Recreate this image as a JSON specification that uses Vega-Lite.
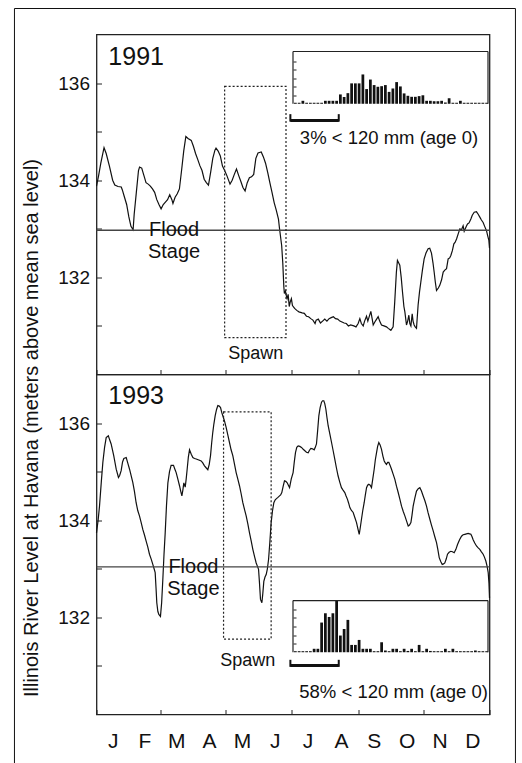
{
  "$schema": "https://vega.github.io/schema/vega-lite/v6.json",
  "background": "white",
  "padding": {"left": 12.5, "top": 6.5, "right": 2, "bottom": 1},
  "spacing": 0,
  "bounds": "flush",
  "config": {
    "font": "Liberation Sans",
    "view": {"stroke": "#222", "strokeWidth": 1.3},
    "axis": {"tickColor": "#222", "labelColor": "#111", "labelFont": "Liberation Sans", "titleFont": "Liberation Sans", "titleFontWeight": "normal", "titleColor": "#111", "grid": false, "domain": false, "labelFlush": false, "labelOverlap": false, "labelBound": false},
    "text": {"font": "Liberation Sans", "color": "#111"}
  },
  "vconcat": [
    {
      "width": 393,
      "height": 340,
      "resolve": {"scale": {"x": "independent", "y": "independent"}, "axis": {"x": "independent", "y": "independent"}},
      "layer": [
        {
          "layer": [
            {
              "data": {"values": [
                {"day":0,"level":133.88},{"day":2,"level":134.1},{"day":4,"level":134.35},{"day":7,"level":134.67},{"day":9,"level":134.55},{"day":12,"level":134.29},{"day":15,"level":134.0},{"day":17,"level":133.9},{"day":20,"level":133.87},{"day":23,"level":133.86},{"day":24,"level":133.8},{"day":26,"level":133.65},{"day":28,"level":133.5},{"day":30,"level":133.25},{"day":32,"level":133.05},{"day":34,"level":132.98},{"day":35,"level":133.3},{"day":37,"level":133.75},{"day":39,"level":134.2},{"day":40,"level":134.27},{"day":42,"level":134.25},{"day":44,"level":134.1},{"day":46,"level":133.95},{"day":48,"level":133.92},{"day":50,"level":133.88},{"day":52,"level":133.82},{"day":54,"level":133.75},{"day":56,"level":133.6},{"day":58,"level":133.5},{"day":60,"level":133.41},{"day":62,"level":133.5},{"day":64,"level":133.55},{"day":66,"level":133.6},{"day":68,"level":133.7},{"day":70,"level":133.6},{"day":71,"level":133.52},{"day":73,"level":133.65},{"day":75,"level":133.72},{"day":77,"level":133.82},{"day":79,"level":134.2},{"day":81,"level":134.6},{"day":83,"level":134.9},{"day":85,"level":134.86},{"day":88,"level":134.82},{"day":90,"level":134.7},{"day":92,"level":134.55},{"day":94,"level":134.43},{"day":96,"level":134.3},{"day":98,"level":134.2},{"day":100,"level":134.02},{"day":102,"level":133.95},{"day":104,"level":133.9},{"day":106,"level":134.16},{"day":108,"level":134.45},{"day":110,"level":134.62},{"day":111,"level":134.66},{"day":113,"level":134.6},{"day":115,"level":134.5},{"day":117,"level":134.29},{"day":119,"level":134.2},{"day":121,"level":134.1},{"day":124,"level":133.92},{"day":126,"level":134.0},{"day":128,"level":134.12},{"day":130,"level":134.23},{"day":132,"level":134.1},{"day":134,"level":133.98},{"day":136,"level":133.85},{"day":138,"level":133.78},{"day":140,"level":133.95},{"day":142,"level":134.05},{"day":144,"level":134.07},{"day":146,"level":134.12},{"day":148,"level":134.45},{"day":150,"level":134.56},{"day":153,"level":134.58},{"day":155,"level":134.48},{"day":157,"level":134.35},{"day":159,"level":134.16},{"day":161,"level":133.95},{"day":163,"level":133.75},{"day":165,"level":133.54},{"day":167,"level":133.38},{"day":169,"level":133.2},{"day":170,"level":133.0},{"day":172,"level":132.65},{"day":173,"level":132.3},{"day":174,"level":131.8},{"day":174.5,"level":131.67},{"day":175.5,"level":131.72},{"day":176.5,"level":131.6},{"day":177,"level":131.56},{"day":178,"level":131.65},{"day":179,"level":131.4},{"day":180,"level":131.5},{"day":181,"level":131.56},{"day":182,"level":131.42},{"day":184,"level":131.36},{"day":186,"level":131.32},{"day":188,"level":131.29},{"day":191,"level":131.27},{"day":193,"level":131.26},{"day":195,"level":131.2},{"day":197,"level":131.19},{"day":199,"level":131.15},{"day":201,"level":131.12},{"day":203,"level":131.05},{"day":204,"level":131.12},{"day":206,"level":131.14},{"day":208,"level":131.06},{"day":210,"level":131.1},{"day":212,"level":131.14},{"day":214,"level":131.1},{"day":216,"level":131.15},{"day":218,"level":131.17},{"day":220,"level":131.19},{"day":222,"level":131.15},{"day":224,"level":131.14},{"day":226,"level":131.1},{"day":228,"level":131.08},{"day":230,"level":131.06},{"day":232,"level":131.05},{"day":234,"level":131.0},{"day":236,"level":131.02},{"day":239,"level":131.0},{"day":241,"level":130.98},{"day":243,"level":131.05},{"day":244.6,"level":131.15},{"day":246,"level":131.05},{"day":247.7,"level":131.0},{"day":249,"level":131.1},{"day":250.8,"level":131.2},{"day":252,"level":131.1},{"day":254.8,"level":131.3},{"day":256,"level":131.15},{"day":257,"level":131.02},{"day":259,"level":131.1},{"day":261.6,"level":131.19},{"day":263,"level":131.1},{"day":264.7,"level":131.02},{"day":267,"level":131.0},{"day":269.3,"level":130.98},{"day":271,"level":130.95},{"day":273.4,"level":130.91},{"day":275.5,"level":130.98},{"day":277,"level":131.5},{"day":278.5,"level":132.1},{"day":279.5,"level":132.35},{"day":281.7,"level":132.25},{"day":283,"level":132.0},{"day":284.2,"level":131.7},{"day":285.5,"level":131.4},{"day":286.4,"level":131.29},{"day":287.9,"level":131.02},{"day":289,"level":131.1},{"day":290.1,"level":131.22},{"day":291,"level":131.05},{"day":292,"level":131.0},{"day":293.2,"level":131.25},{"day":294,"level":131.1},{"day":295,"level":131.02},{"day":296,"level":130.98},{"day":297.2,"level":130.95},{"day":298.7,"level":131.43},{"day":300,"level":131.7},{"day":301.2,"level":131.9},{"day":302.7,"level":132.15},{"day":304.3,"level":132.38},{"day":306,"level":132.5},{"day":308,"level":132.59},{"day":309.5,"level":132.6},{"day":311.1,"level":132.5},{"day":312.5,"level":132.3},{"day":313.6,"level":132.11},{"day":314.7,"level":131.9},{"day":315.8,"level":131.73},{"day":317.5,"level":131.78},{"day":318.9,"level":131.84},{"day":320.5,"level":131.95},{"day":322,"level":132.11},{"day":323.5,"level":132.15},{"day":325.1,"level":132.18},{"day":326.6,"level":132.38},{"day":328,"level":132.4},{"day":329.1,"level":132.45},{"day":330.5,"level":132.55},{"day":331.9,"level":132.69},{"day":333,"level":132.72},{"day":334.4,"level":132.79},{"day":336,"level":132.9},{"day":337.5,"level":133.0},{"day":339,"level":132.98},{"day":340.5,"level":133.06},{"day":341.5,"level":132.95},{"day":342.1,"level":132.98},{"day":343.5,"level":133.05},{"day":344.6,"level":133.1},{"day":346,"level":133.12},{"day":347.7,"level":133.2},{"day":349,"level":133.28},{"day":350.8,"level":133.34},{"day":352.9,"level":133.35},{"day":354.5,"level":133.3},{"day":356,"level":133.24},{"day":357.5,"level":133.18},{"day":359.1,"level":133.13},{"day":360.5,"level":133.05},{"day":362.2,"level":132.96},{"day":363.4,"level":132.85},{"day":364.4,"level":132.76},{"day":365,"level":132.6}
              ]},
              "mark": {"type": "line", "color": "#111", "strokeWidth": 1.2},
              "encoding": {
                "x": {"field": "day", "type": "quantitative", "scale": {"domain": [0, 365], "nice": false, "zero": false},
                      "axis": {"title": null, "values": [0,31,59,90,120,151,181,212,243,273,304,334,365], "labels": false, "tickSize": -5}},
                "y": {"field": "level", "type": "quantitative", "scale": {"domain": [130, 137], "nice": false, "zero": false},
                      "axis": {"values": [131,132,133,134,135,136], "tickSize": -5, "labelPadding": 12, "labelFontSize": 19, "labelOverlap": false, "labelFlush": false,
                               "labelExpr": "datum.value % 2 == 0 ? datum.label : ''",
                               "title": "Illinois River Level at Havana (meters above mean sea level)",
                               "titleFontSize": 20, "titleAngle": 270, "titleX": -59, "titleY": 393, "titleAlign": "center", "titleBaseline": "alphabetic"}}
              }
            },
            {
              "data": {"values": [{}]},
              "mark": {"type": "rect", "fillOpacity": 0, "stroke": "#111", "strokeWidth": 1, "clip": false},
              "encoding": {"x": {"datum": -76.2}, "x2": {"datum": 389.1}, "y": {"datum": 137.535}, "y2": {"datum": 121.99}}
            },
            {
              "data": {"values": [{}]},
              "mark": {"type": "rule", "color": "#444", "strokeWidth": 1.4},
              "encoding": {"y": {"datum": 132.97}}
            },
            {
              "data": {"values": [{}]},
              "mark": {"type": "rect", "fillOpacity": 0, "stroke": "#222", "strokeWidth": 1.2, "strokeDash": [2, 2]},
              "encoding": {"x": {"datum": 119}, "x2": {"datum": 176}, "y": {"datum": 130.76}, "y2": {"datum": 135.93}}
            },
            {
              "data": {"values": [{}]},
              "mark": {"type": "text", "text": "Spawn", "fontSize": 18, "align": "center", "baseline": "middle"},
              "encoding": {"x": {"datum": 148}, "y": {"datum": 130.42}}
            },
            {
              "data": {"values": [{}]},
              "mark": {"type": "text", "text": ["Flood", "Stage"], "fontSize": 20, "lineHeight": 22, "align": "center", "baseline": "middle"},
              "encoding": {"x": {"datum": 72}, "y": {"datum": 132.97}}
            },
            {
              "data": {"values": [{}]},
              "mark": {"type": "text", "text": "1991", "fontSize": 25, "align": "left", "baseline": "alphabetic"},
              "encoding": {"x": {"datum": 11}, "y": {"datum": 136.38}}
            }
          ]
        },
        {
          "layer": [
            {
              "data": {"values": [
                {"lo":0,"hi":10,"pct":0.12},{"lo":10,"hi":20,"pct":0.12},{"lo":20,"hi":30,"pct":0.35},{"lo":30,"hi":40,"pct":0.12},{"lo":40,"hi":50,"pct":0.12},{"lo":50,"hi":60,"pct":0.12},{"lo":60,"hi":70,"pct":0.12},{"lo":70,"hi":80,"pct":0.12},{"lo":80,"hi":90,"pct":0.35},{"lo":90,"hi":100,"pct":0.35},{"lo":100,"hi":110,"pct":0.35},{"lo":110,"hi":120,"pct":0.35},{"lo":120,"hi":130,"pct":1.1},{"lo":130,"hi":140,"pct":0.8},{"lo":140,"hi":150,"pct":1.25},{"lo":150,"hi":160,"pct":2.4},{"lo":160,"hi":170,"pct":2.4},{"lo":170,"hi":180,"pct":2.4},{"lo":180,"hi":190,"pct":3.45},{"lo":190,"hi":200,"pct":1.73},{"lo":200,"hi":210,"pct":2.85},{"lo":210,"hi":220,"pct":2.2},{"lo":220,"hi":230,"pct":2.0},{"lo":230,"hi":240,"pct":2.07},{"lo":240,"hi":250,"pct":2.2},{"lo":250,"hi":260,"pct":1.4},{"lo":260,"hi":270,"pct":1.8},{"lo":270,"hi":280,"pct":2.55},{"lo":280,"hi":290,"pct":2.04},{"lo":290,"hi":300,"pct":1.22},{"lo":300,"hi":310,"pct":0.94},{"lo":310,"hi":320,"pct":0.82},{"lo":320,"hi":330,"pct":0.82},{"lo":330,"hi":340,"pct":0.9},{"lo":340,"hi":350,"pct":1.0},{"lo":350,"hi":360,"pct":0.35},{"lo":360,"hi":370,"pct":0.35},{"lo":370,"hi":380,"pct":0.3},{"lo":380,"hi":390,"pct":0.3},{"lo":390,"hi":400,"pct":0.35},{"lo":400,"hi":410,"pct":0.15},{"lo":410,"hi":420,"pct":0.65},{"lo":420,"hi":430,"pct":0.12},{"lo":430,"hi":440,"pct":0.12},{"lo":440,"hi":450,"pct":0.35},{"lo":450,"hi":460,"pct":0.12},{"lo":460,"hi":470,"pct":0.12},{"lo":470,"hi":480,"pct":0.12},{"lo":480,"hi":490,"pct":0.12},{"lo":490,"hi":500,"pct":0.12},{"lo":500,"hi":510,"pct":0.12},{"lo":510,"hi":520,"pct":0.12}
              ]},
              "mark": {"type": "bar", "color": "#111"},
              "encoding": {
                "x": {"field": "lo", "type": "quantitative", "bin": "binned", "scale": {"domain": [-524, 524], "nice": false, "zero": false}, "axis": null},
                "x2": {"field": "hi"},
                "y": {"field": "pct", "type": "quantitative", "scale": {"domain": [-31.85, 8.15], "nice": false, "zero": false},
                      "axis": {"orient": "left", "offset": -196.5, "values": [1,2,3,4,5], "labels": false, "title": null, "tickSize": -3}}
              }
            },
            {"data": {"values": [{}]}, "mark": {"type": "rule", "color": "#222", "strokeWidth": 1.2}, "encoding": {"x": {"datum": 0}, "x2": {"datum": 520}, "y": {"datum": 6.15}}},
            {"data": {"values": [{}]}, "mark": {"type": "rule", "color": "#222", "strokeWidth": 1.2}, "encoding": {"x": {"datum": 0}, "y": {"datum": 0}, "y2": {"datum": 6.15}}},
            {"data": {"values": [{}]}, "mark": {"type": "rule", "color": "#222", "strokeWidth": 1.2}, "encoding": {"x": {"datum": 520}, "y": {"datum": 0}, "y2": {"datum": 6.15}}},
            {"data": {"values": [{}]}, "mark": {"type": "rule", "color": "#111", "strokeWidth": 3}, "encoding": {"x": {"datum": -7}, "x2": {"datum": 122}, "y": {"datum": -1.96}}},
            {"data": {"values": [{}]}, "mark": {"type": "rule", "color": "#111", "strokeWidth": 2}, "encoding": {"x": {"datum": -7}, "y": {"datum": -1.22}, "y2": {"datum": -2.1}}},
            {"data": {"values": [{}]}, "mark": {"type": "rule", "color": "#111", "strokeWidth": 2}, "encoding": {"x": {"datum": 122}, "y": {"datum": -1.22}, "y2": {"datum": -2.1}}},
            {"data": {"values": [{}]}, "mark": {"type": "text", "text": "3% < 120 mm (age 0)", "fontSize": 18.5, "align": "right", "baseline": "alphabetic"}, "encoding": {"x": {"datum": 494}, "y": {"datum": -4.79}}}
          ]
        }
      ]
    },
    {
      "width": 393,
      "height": 340,
      "resolve": {"scale": {"x": "independent", "y": "independent"}, "axis": {"x": "independent", "y": "independent"}},
      "layer": [
        {
          "layer": [
            {
              "data": {"values": [
                {"day":0,"level":133.74},{"day":1.5,"level":134.0},{"day":2.8,"level":134.29},{"day":4.5,"level":134.8},{"day":5.9,"level":135.19},{"day":7.5,"level":135.5},{"day":9,"level":135.7},{"day":11,"level":135.74},{"day":12.3,"level":135.65},{"day":13.6,"level":135.57},{"day":16,"level":135.33},{"day":18.3,"level":135.05},{"day":20.4,"level":134.88},{"day":21.5,"level":134.92},{"day":22.9,"level":135.02},{"day":24.2,"level":135.2},{"day":25.4,"level":135.27},{"day":27.6,"level":135.29},{"day":29,"level":135.18},{"day":30.7,"level":135.05},{"day":33.7,"level":134.78},{"day":35.2,"level":134.6},{"day":36.8,"level":134.36},{"day":38.3,"level":134.2},{"day":39.9,"level":134.09},{"day":41.5,"level":133.95},{"day":43,"level":133.81},{"day":44.5,"level":133.7},{"day":46.1,"level":133.57},{"day":47.6,"level":133.45},{"day":49.2,"level":133.3},{"day":50.8,"level":133.2},{"day":52.3,"level":133.09},{"day":53.5,"level":133.0},{"day":54.5,"level":132.92},{"day":55.3,"level":132.6},{"day":56,"level":132.3},{"day":57,"level":132.12},{"day":57.9,"level":132.06},{"day":59.4,"level":132.02},{"day":60.5,"level":132.3},{"day":61.6,"level":132.78},{"day":62.7,"level":133.3},{"day":63.8,"level":133.74},{"day":65,"level":134.3},{"day":66.3,"level":134.77},{"day":67.8,"level":135.0},{"day":69.3,"level":135.13},{"day":71.5,"level":135.13},{"day":72.8,"level":135.05},{"day":74,"level":134.98},{"day":75.5,"level":134.85},{"day":77.1,"level":134.71},{"day":78.2,"level":134.6},{"day":79.3,"level":134.5},{"day":80.2,"level":134.62},{"day":81.1,"level":134.77},{"day":82.4,"level":134.68},{"day":83.3,"level":134.85},{"day":84.2,"level":135.05},{"day":85.3,"level":135.3},{"day":86.4,"level":135.45},{"day":88,"level":135.36},{"day":89.5,"level":135.29},{"day":91,"level":135.27},{"day":92.6,"level":135.26},{"day":95,"level":135.24},{"day":97.2,"level":135.22},{"day":98.7,"level":135.18},{"day":100.3,"level":135.12},{"day":101.8,"level":135.08},{"day":103.4,"level":135.04},{"day":104.7,"level":135.15},{"day":105.9,"level":135.33},{"day":107,"level":135.6},{"day":108,"level":135.81},{"day":109,"level":135.98},{"day":110.2,"level":136.15},{"day":111.5,"level":136.28},{"day":112.7,"level":136.36},{"day":114,"level":136.35},{"day":115.2,"level":136.32},{"day":116.3,"level":136.22},{"day":117.3,"level":136.15},{"day":118.8,"level":136.05},{"day":120.4,"level":135.91},{"day":122,"level":135.75},{"day":123.5,"level":135.6},{"day":125,"level":135.45},{"day":126.6,"level":135.33},{"day":128.2,"level":135.15},{"day":129.7,"level":134.98},{"day":131.2,"level":134.85},{"day":132.8,"level":134.71},{"day":134.3,"level":134.55},{"day":135.9,"level":134.36},{"day":137.5,"level":134.22},{"day":139,"level":134.09},{"day":140.6,"level":133.92},{"day":142.1,"level":133.74},{"day":143.7,"level":133.57},{"day":145.2,"level":133.4},{"day":146.8,"level":133.25},{"day":148.3,"level":133.12},{"day":149.5,"level":133.05},{"day":150.5,"level":132.99},{"day":151.4,"level":132.7},{"day":152.3,"level":132.37},{"day":153.6,"level":132.3},{"day":154.5,"level":132.5},{"day":155.4,"level":132.74},{"day":156.5,"level":132.83},{"day":157.6,"level":132.88},{"day":158.7,"level":133.0},{"day":159.8,"level":133.19},{"day":161,"level":133.55},{"day":162.2,"level":133.95},{"day":163.5,"level":134.2},{"day":164.7,"level":134.36},{"day":166,"level":134.42},{"day":166.9,"level":134.44},{"day":168.5,"level":134.47},{"day":170,"level":134.5},{"day":171,"level":134.52},{"day":172.1,"level":134.57},{"day":173.4,"level":134.7},{"day":174.6,"level":134.81},{"day":175.8,"level":134.8},{"day":177.1,"level":134.77},{"day":178.2,"level":134.72},{"day":179.3,"level":134.67},{"day":180.9,"level":134.85},{"day":182.6,"level":134.98},{"day":183.7,"level":135.2},{"day":184.8,"level":135.39},{"day":186,"level":135.5},{"day":187.3,"level":135.53},{"day":188.8,"level":135.52},{"day":190.4,"level":135.5},{"day":192,"level":135.46},{"day":193.5,"level":135.43},{"day":195,"level":135.4},{"day":196.6,"level":135.39},{"day":197.8,"level":135.44},{"day":199.1,"level":135.48},{"day":200.6,"level":135.47},{"day":202.2,"level":135.45},{"day":203.2,"level":135.5},{"day":204.3,"level":135.57},{"day":205.4,"level":135.85},{"day":206.5,"level":136.15},{"day":207.7,"level":136.32},{"day":209,"level":136.43},{"day":210,"level":136.46},{"day":211.1,"level":136.46},{"day":212,"level":136.4},{"day":213,"level":136.29},{"day":214,"level":136.12},{"day":215.2,"level":135.94},{"day":216.7,"level":135.78},{"day":218.3,"level":135.6},{"day":219.8,"level":135.43},{"day":221.3,"level":135.26},{"day":222.8,"level":135.08},{"day":224.4,"level":134.91},{"day":226,"level":134.78},{"day":227.5,"level":134.67},{"day":229,"level":134.62},{"day":230.6,"level":134.57},{"day":231.8,"level":134.5},{"day":233.1,"level":134.43},{"day":234.2,"level":134.35},{"day":235.3,"level":134.26},{"day":236.8,"level":134.2},{"day":238.4,"level":134.16},{"day":240,"level":134.05},{"day":241.5,"level":133.95},{"day":242.8,"level":133.82},{"day":244,"level":133.71},{"day":245,"level":133.85},{"day":246.1,"level":134.02},{"day":247.3,"level":134.2},{"day":248.6,"level":134.36},{"day":249.7,"level":134.52},{"day":250.8,"level":134.67},{"day":251.8,"level":134.72},{"day":252.9,"level":134.74},{"day":254.2,"level":134.72},{"day":255.4,"level":134.67},{"day":256.6,"level":134.85},{"day":257.9,"level":135.05},{"day":259,"level":135.25},{"day":260.1,"level":135.39},{"day":261.1,"level":135.52},{"day":262.2,"level":135.6},{"day":263.4,"level":135.55},{"day":264.7,"level":135.46},{"day":266,"level":135.32},{"day":267.2,"level":135.22},{"day":268.2,"level":135.18},{"day":269.3,"level":135.15},{"day":270.4,"level":135.19},{"day":271.5,"level":135.19},{"day":272.8,"level":135.12},{"day":274,"level":135.05},{"day":275.5,"level":134.95},{"day":277.1,"level":134.84},{"day":278.6,"level":134.7},{"day":280.2,"level":134.57},{"day":281.8,"level":134.43},{"day":283.3,"level":134.29},{"day":284.9,"level":134.18},{"day":286.4,"level":134.09},{"day":288,"level":133.98},{"day":289.5,"level":133.88},{"day":290.7,"level":133.9},{"day":292,"level":133.95},{"day":293,"level":134.1},{"day":294.1,"level":134.29},{"day":295.6,"level":134.45},{"day":297.2,"level":134.6},{"day":298.8,"level":134.65},{"day":300.3,"level":134.67},{"day":301.8,"level":134.6},{"day":303.4,"level":134.5},{"day":305,"level":134.4},{"day":306.5,"level":134.29},{"day":308,"level":134.15},{"day":309.6,"level":134.02},{"day":311.1,"level":133.9},{"day":312.7,"level":133.78},{"day":314.2,"level":133.66},{"day":315.8,"level":133.54},{"day":317,"level":133.4},{"day":318.3,"level":133.23},{"day":319.7,"level":133.15},{"day":321.1,"level":133.09},{"day":322.3,"level":133.1},{"day":323.5,"level":133.12},{"day":324.8,"level":133.2},{"day":326,"level":133.3},{"day":327.5,"level":133.34},{"day":329.1,"level":133.36},{"day":330.6,"level":133.35},{"day":332.2,"level":133.33},{"day":333.8,"level":133.4},{"day":335.3,"level":133.5},{"day":337.2,"level":133.6},{"day":339,"level":133.67},{"day":340.5,"level":133.7},{"day":342.1,"level":133.71},{"day":343.6,"level":133.72},{"day":345.2,"level":133.73},{"day":346.5,"level":133.72},{"day":347.7,"level":133.71},{"day":348.8,"level":133.66},{"day":349.8,"level":133.6},{"day":351.3,"level":133.53},{"day":352.9,"level":133.47},{"day":354.5,"level":133.43},{"day":356,"level":133.4},{"day":357.5,"level":133.35},{"day":359.1,"level":133.3},{"day":360.3,"level":133.24},{"day":361.6,"level":133.16},{"day":362.8,"level":133.05},{"day":363.8,"level":132.92},{"day":364.5,"level":132.7},{"day":365,"level":132.4}
              ]},
              "mark": {"type": "line", "color": "#111", "strokeWidth": 1.2},
              "encoding": {
                "x": {"field": "day", "type": "quantitative", "scale": {"domain": [0, 365], "nice": false, "zero": false},
                      "axis": {"title": null, "values": [0,31,59,90,120,151,181,212,243,273,304,334,365], "tickSize": -5, "labels": false}},
                "y": {"field": "level", "type": "quantitative", "scale": {"domain": [130, 137], "nice": false, "zero": false},
                      "axis": {"values": [131,132,133,134,135,136], "tickSize": -5, "labelPadding": 12, "labelFontSize": 19, "title": null, "labelOverlap": false, "labelFlush": false,
                               "labelExpr": "datum.value % 2 == 0 ? datum.label : ''"}}
              }
            },
            {
              "data": {"values": [
                {"month":"J","mid":15.5},{"month":"F","mid":45},{"month":"M","mid":74.5},{"month":"A","mid":105},{"month":"M","mid":135.5},{"month":"J","mid":166},{"month":"J","mid":196.5},{"month":"A","mid":227.5},{"month":"S","mid":258},{"month":"O","mid":288.5},{"month":"N","mid":319},{"month":"D","mid":349.5}
              ]},
              "mark": {"type": "text", "fontSize": 21, "align": "center", "baseline": "alphabetic", "clip": false},
              "encoding": {"x": {"field": "mid", "type": "quantitative"}, "y": {"datum": 129.32}, "text": {"field": "month"}}
            },
            {
              "data": {"values": [{}]},
              "mark": {"type": "rule", "color": "#444", "strokeWidth": 1.4},
              "encoding": {"y": {"datum": 133.04}}
            },
            {
              "data": {"values": [{}]},
              "mark": {"type": "rect", "fillOpacity": 0, "stroke": "#222", "strokeWidth": 1.2, "strokeDash": [2, 2]},
              "encoding": {"x": {"datum": 118}, "x2": {"datum": 162.2}, "y": {"datum": 131.55}, "y2": {"datum": 136.23}}
            },
            {
              "data": {"values": [{}]},
              "mark": {"type": "text", "text": "Spawn", "fontSize": 18, "align": "center", "baseline": "middle"},
              "encoding": {"x": {"datum": 140.5}, "y": {"datum": 131.11}}
            },
            {
              "data": {"values": [{}]},
              "mark": {"type": "text", "text": ["Flood", "Stage"], "fontSize": 20, "lineHeight": 22, "align": "center", "baseline": "middle"},
              "encoding": {"x": {"datum": 90}, "y": {"datum": 133.04}}
            },
            {
              "data": {"values": [{}]},
              "mark": {"type": "text", "text": "1993", "fontSize": 25, "align": "left", "baseline": "alphabetic"},
              "encoding": {"x": {"datum": 11}, "y": {"datum": 136.39}}
            }
          ]
        },
        {
          "layer": [
            {
              "data": {"values": [
                {"lo":0,"hi":10,"pct":0.12},{"lo":10,"hi":20,"pct":0.12},{"lo":20,"hi":30,"pct":0.12},{"lo":30,"hi":40,"pct":0.12},{"lo":40,"hi":50,"pct":0.12},{"lo":50,"hi":60,"pct":0.4},{"lo":60,"hi":70,"pct":0.4},{"lo":70,"hi":80,"pct":3.45},{"lo":80,"hi":90,"pct":4.53},{"lo":90,"hi":100,"pct":4.1},{"lo":100,"hi":110,"pct":4.53},{"lo":110,"hi":120,"pct":6.0},{"lo":120,"hi":130,"pct":1.94},{"lo":130,"hi":140,"pct":2.7},{"lo":140,"hi":150,"pct":3.76},{"lo":150,"hi":160,"pct":0.85},{"lo":160,"hi":170,"pct":0.85},{"lo":170,"hi":180,"pct":1.43},{"lo":180,"hi":190,"pct":0.4},{"lo":190,"hi":200,"pct":0.4},{"lo":200,"hi":210,"pct":0.4},{"lo":210,"hi":220,"pct":0.12},{"lo":220,"hi":230,"pct":0.12},{"lo":230,"hi":240,"pct":1.16},{"lo":240,"hi":250,"pct":0.2},{"lo":250,"hi":260,"pct":0.12},{"lo":260,"hi":270,"pct":0.4},{"lo":270,"hi":280,"pct":0.4},{"lo":280,"hi":290,"pct":0.12},{"lo":290,"hi":300,"pct":0.4},{"lo":300,"hi":310,"pct":0.15},{"lo":310,"hi":320,"pct":0.4},{"lo":320,"hi":330,"pct":0.12},{"lo":330,"hi":340,"pct":0.85},{"lo":340,"hi":350,"pct":0.12},{"lo":350,"hi":360,"pct":0.4},{"lo":360,"hi":370,"pct":0.15},{"lo":370,"hi":380,"pct":0.12},{"lo":380,"hi":390,"pct":0.12},{"lo":390,"hi":400,"pct":0.12},{"lo":400,"hi":410,"pct":0.4},{"lo":410,"hi":420,"pct":0.12},{"lo":420,"hi":430,"pct":0.4},{"lo":430,"hi":440,"pct":0.12},{"lo":440,"hi":450,"pct":0.12},{"lo":450,"hi":460,"pct":0.12},{"lo":460,"hi":470,"pct":0.12},{"lo":470,"hi":480,"pct":0.12},{"lo":480,"hi":490,"pct":0.2},{"lo":490,"hi":500,"pct":0.12},{"lo":500,"hi":510,"pct":0.12},{"lo":510,"hi":520,"pct":0.12}
              ]},
              "mark": {"type": "bar", "color": "#111"},
              "encoding": {
                "x": {"field": "lo", "type": "quantitative", "bin": "binned", "scale": {"domain": [-524, 524], "nice": false, "zero": false}, "axis": null},
                "x2": {"field": "hi"},
                "y": {"field": "pct", "type": "quantitative", "scale": {"domain": [-7.24, 32.29], "nice": false, "zero": false},
                      "axis": {"orient": "left", "offset": -196.5, "values": [1,2,3,4,5], "labels": false, "title": null, "tickSize": -3}}
              }
            },
            {"data": {"values": [{}]}, "mark": {"type": "rule", "color": "#222", "strokeWidth": 1.2}, "encoding": {"x": {"datum": 0}, "x2": {"datum": 520}, "y": {"datum": 6.01}}},
            {"data": {"values": [{}]}, "mark": {"type": "rule", "color": "#222", "strokeWidth": 1.2}, "encoding": {"x": {"datum": 0}, "y": {"datum": 0}, "y2": {"datum": 6.01}}},
            {"data": {"values": [{}]}, "mark": {"type": "rule", "color": "#222", "strokeWidth": 1.2}, "encoding": {"x": {"datum": 520}, "y": {"datum": 0}, "y2": {"datum": 6.01}}},
            {"data": {"values": [{}]}, "mark": {"type": "rule", "color": "#111", "strokeWidth": 3}, "encoding": {"x": {"datum": -7}, "x2": {"datum": 122}, "y": {"datum": -1.55}}},
            {"data": {"values": [{}]}, "mark": {"type": "rule", "color": "#111", "strokeWidth": 2}, "encoding": {"x": {"datum": -7}, "y": {"datum": -0.88}, "y2": {"datum": -1.7}}},
            {"data": {"values": [{}]}, "mark": {"type": "rule", "color": "#111", "strokeWidth": 2}, "encoding": {"x": {"datum": 122}, "y": {"datum": -0.88}, "y2": {"datum": -1.7}}},
            {"data": {"values": [{}]}, "mark": {"type": "text", "text": "58% < 120 mm (age 0)", "fontSize": 18.5, "align": "right", "baseline": "alphabetic"}, "encoding": {"x": {"datum": 520}, "y": {"datum": -5.3}}}
          ]
        }
      ]
    }
  ]
}
